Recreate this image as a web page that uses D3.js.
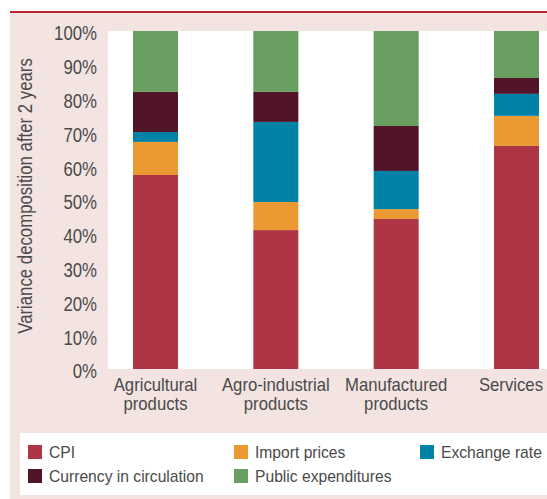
<!DOCTYPE html>
<html>
<head>
<meta charset="utf-8">
<script src="https://cdn.jsdelivr.net/npm/d3@7"></script>
<style>
  body { margin: 0; background: #fff; }
  text { font-family: "Liberation Sans", Arial, sans-serif; fill: #4a4a4a; }
</style>
</head>
<body>
<div id="chart"></div>
<script>
// categories (two-line labels)
const categories = ["Agricultural products", "Agro-industrial products", "Manufactured products", "Services"];
const catLines = [["Agricultural", "products"], ["Agro-industrial", "products"], ["Manufactured", "products"], ["Services"]];

// series, bottom to top, in percent
const seriesNames = ["CPI", "Import prices", "Exchange rate", "Currency in circulation", "Public expenditures"];
const cpi        = [57.4, 41.1, 44.4, 66.0];
const importP    = [9.8, 8.3, 2.9, 8.9];
const exchange   = [2.9, 23.7, 11.3, 6.5];
const currency   = [11.9, 8.9, 13.3, 4.7];
const publicExp  = [18.0, 18.0, 28.1, 13.9];
const colors = ["#ae3546", "#eb9a33", "#0081a8", "#521427", "#689e5f"];

const yTicks = [0, 10, 20, 30, 40, 50, 60, 70, 80, 90, 100];

const width = 547, height = 499;
const plot = {left: 108, top: 31, right: 547, bottom: 369};

// squeeze regular text so it looks like the condensed face of the original
function condense(sel, k) {
  sel.each(function() {
    const len = this.getComputedTextLength();
    d3.select(this).attr("textLength", len * k).attr("lengthAdjust", "spacingAndGlyphs");
  });
}

const svg = d3.select("#chart").append("svg")
  .attr("width", width)
  .attr("height", height);

// panel background + top rule
svg.append("rect").attr("x", 10).attr("y", 12).attr("width", width - 10).attr("height", height - 12).attr("fill", "#f3e4e2");
svg.append("rect").attr("x", 10).attr("y", 11).attr("width", width - 10).attr("height", 2).attr("fill", "#c0272d");
svg.append("rect").attr("x", plot.left).attr("y", plot.top)
  .attr("width", plot.right - plot.left).attr("height", plot.bottom - plot.top).attr("fill", "#fff");

const table = categories.map((c, i) => ({
  cat: c,
  "CPI": cpi[i],
  "Import prices": importP[i],
  "Exchange rate": exchange[i],
  "Currency in circulation": currency[i],
  "Public expenditures": publicExp[i]
}));
const stacked = d3.stack().keys(seriesNames)(table);

const x = d3.scalePoint().domain(categories).range([155.5, 516.5]);
const barW = 45;
const y = d3.scaleLinear().domain([0, 100]).range([plot.bottom, plot.top]);
const color = d3.scaleOrdinal().domain(seriesNames).range(colors);

svg.append("g").selectAll("g")
  .data(stacked)
  .join("g")
  .attr("fill", d => color(d.key))
  .selectAll("rect")
  .data(d => d)
  .join("rect")
  .attr("x", d => x(d.data.cat) - barW / 2)
  .attr("width", barW)
  .attr("y", d => y(d[1]))
  .attr("height", d => y(d[0]) - y(d[1]));

// y axis labels
const yAxis = svg.append("g")
  .attr("transform", "translate(" + plot.left + ",0)")
  .call(d3.axisLeft(y).tickValues(yTicks).tickFormat(d => d + "%").tickSize(0).tickPadding(11));
yAxis.select(".domain").remove();
yAxis.selectAll("text")
  .attr("dy", "0.35em")
  .attr("transform", "translate(0,2)")
  .style("font-size", "19.5px")
  .style("font-family", null)
  .attr("fill", null)
  .call(condense, 0.86);

svg.append("text")
  .attr("transform", "translate(32,196) rotate(-90)")
  .attr("text-anchor", "middle")
  .style("font-size", "19.5px")
  .text("Variance decomposition after 2 years")
  .call(condense, 0.86);

// x labels, one text per line
const xg = svg.append("g").selectAll("g")
  .data(categories)
  .join("g")
  .attr("transform", d => "translate(" + x(d) + ",0)");
xg.selectAll("text")
  .data((d, i) => catLines[i])
  .join("text")
  .attr("text-anchor", "middle")
  .attr("y", (d, i) => 391 + i * 18.7)
  .style("font-size", "19px")
  .text(d => d)
  .call(condense, 0.88);
// keep the last label inside the frame, as the original does
xg.each(function(d) {
  const b = this.getBBox();
  const over = x(d) + b.x + b.width - (width - 4);
  if (over > 0) d3.select(this).attr("transform", "translate(" + (x(d) - over) + ",0)");
});

// legend
svg.append("rect").attr("x", 20).attr("y", 433).attr("width", width - 20).attr("height", 62).attr("fill", "#fff");
const legPos = [[28, 452], [234, 452], [420, 452], [28, 476], [234, 476]];
const leg = svg.append("g").selectAll("g")
  .data(seriesNames)
  .join("g")
  .attr("transform", (d, i) => "translate(" + legPos[i][0] + "," + legPos[i][1] + ")");
leg.append("rect").attr("x", 0).attr("y", -7).attr("width", 14).attr("height", 14).attr("fill", d => color(d));
leg.append("text").attr("x", 21).attr("dy", "0.36em").style("font-size", "17px").text(d => d)
  .call(condense, 0.92);
</script>
</body>
</html>
